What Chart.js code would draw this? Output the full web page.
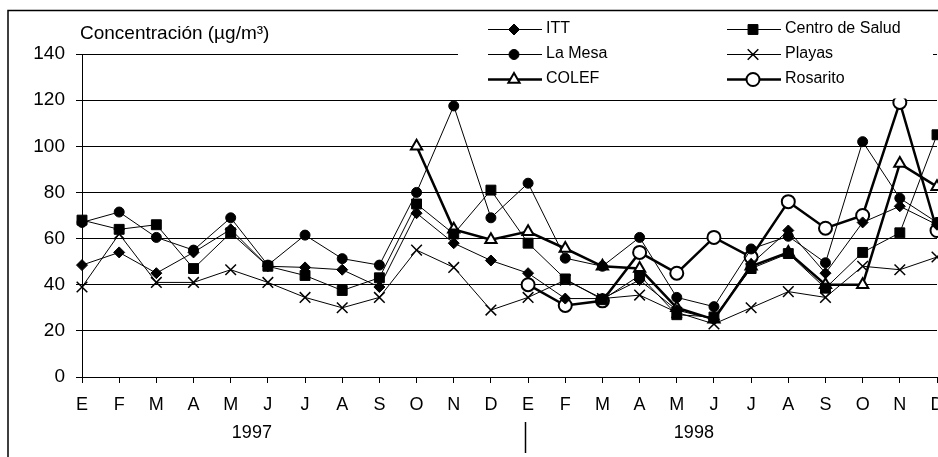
<!DOCTYPE html>
<html>
<head>
<meta charset="utf-8">
<script src="https://cdn.jsdelivr.net/npm/chart.js@4.4.0/dist/chart.umd.min.js"></script>
<style>
html, body { margin: 0; padding: 0; overflow: hidden; background: #fff; }
#wrap { position: relative; width: 960px; height: 457px; }
</style>
</head>
<body>
<div id="wrap"><canvas id="myChart"></canvas></div>
<script>
// meses 1997-1998
var months = ['E','F','M','A','M','J','J','A','S','O','N','D',
              'E','F','M','A','M','J','J','A','S','O','N','D'];
var years = ['1997', '1998'];

var itt      = [48.5, 54, 45, 54, 64, 48, 47.5, 46.5, 39, 71, 58, 50.5,
                45, 34, 34, 42, 29, 25, 49, 63.5, 45, 67, 74, 66];
var centro   = [68, 64, 66, 47, 62.5, 48, 44, 37.5, 43, 75, 62, 81,
                58, 42.5, 33.5, 44, 27, 26, 47, 53.5, 38.5, 54, 62.5, 105];
var laMesa   = [67, 71.5, 60.5, 55, 69, 48.5, 61.5, 51.3, 48.5, 80, 117.5, 69,
                84, 51.5, 48, 60.5, 34.5, 30.5, 55.5, 61, 49.5, 102, 77.5, 67];
var playas   = [39, 62, 41, 41, 46.5, 41, 34.5, 30, 34.5, 55, 47.5, 29,
                34.5, 42, 34, 35.5, 28, 23, 30, 37, 34.5, 48, 46.5, 52];
var colef    = [null, null, null, null, null, null, null, null, null, 100, 64, 59.5,
                63, 55.7, 48, 47, 30, 25, 48, 54, 40, 40, 92.5, 82.5];
var rosarito = [null, null, null, null, null, null, null, null, null, null, null, null,
                40, 31, 33, 54, 45, 60.5, 52, 76, 64.5, 70, 119, 63.5];

var FONT = "'Liberation Sans', Arial, sans-serif";
Chart.defaults.color = '#000';
Chart.defaults.font.family = FONT;

function serie(label, data, style, radius, filled, thick) {
    return {
        label: label,
        data: data,
        borderColor: '#000',
        backgroundColor: filled ? '#000' : '#fff',
        borderWidth: thick ? 2.5 : 1,
        pointStyle: style,
        pointRadius: radius,
        pointHoverRadius: radius,
        pointBorderWidth: filled ? 1 : 2,
        pointBackgroundColor: filled ? '#000' : '#fff',
        pointBorderColor: '#000',
        tension: 0,
        clip: false
    };
}

var datasets = [
    serie('ITT', itt, 'rectRot', 5.5, true, false),
    serie('Centro de Salud', centro, 'rect', 7, true, false),
    serie('La Mesa', laMesa, 'circle', 5, true, false),
    serie('Playas', playas, 'crossRot', 7.5, true, false),
    serie('COLEF', colef, 'triangle', 6.5, false, true),
    serie('Rosarito', rosarito, 'circle', 6.5, false, true)
];
datasets[3].pointBorderWidth = 1.5;

// marco, titulo del eje, leyenda y años
var extras = {
    id: 'extras',
    beforeDraw: function(chart) {
        var ctx = chart.ctx;
        ctx.save();
        ctx.strokeStyle = '#000';
        ctx.lineWidth = 1.5;
        ctx.beginPath();
        ctx.moveTo(8, chart.height + 5);
        ctx.lineTo(8, 10.5);
        ctx.lineTo(chart.width + 5, 10.5);
        ctx.stroke();
        ctx.restore();
    },
    afterDraw: function(chart) {
        var ctx = chart.ctx;
        var xs = chart.scales.x;
        var area = chart.chartArea;
        ctx.save();
        ctx.fillStyle = '#000';
        ctx.font = '19px ' + FONT;
        ctx.textBaseline = 'middle';
        ctx.textAlign = 'left';
        ctx.fillText('Concentración (µg/m³)', area.left - 2, area.top - 20);

        // años
        ctx.font = '18px ' + FONT;
        ctx.textAlign = 'center';
        ctx.fillText(years[0], xs.getPixelForValue(4.57), 433);
        ctx.fillText(years[1], xs.getPixelForValue(16.46), 433);
        ctx.strokeStyle = '#000';
        ctx.lineWidth = 1.5;
        ctx.beginPath();
        var dx = Math.round(xs.getPixelForValue(11.92)) + 0.5;
        ctx.moveTo(dx, 422);
        ctx.lineTo(dx, 453);
        ctx.stroke();

        // leyenda
        ctx.fillStyle = '#fff';
        ctx.fillRect(458, 12, 475, 86.5);
        ctx.font = '16px ' + FONT;
        ctx.textAlign = 'left';
        var cols = [488, 727];
        var rows = [29, 54, 79];
        chart.data.datasets.forEach(function(ds, i) {
            var x0 = cols[i % 2], y = rows[Math.floor(i / 2)];
            ctx.strokeStyle = '#000';
            ctx.lineWidth = ds.borderWidth;
            ctx.beginPath();
            ctx.moveTo(x0, y + 0.5);
            ctx.lineTo(x0 + 54, y + 0.5);
            ctx.stroke();
            ctx.fillStyle = ds.pointBackgroundColor;
            ctx.strokeStyle = '#000';
            ctx.lineWidth = ds.pointBorderWidth;
            Chart.helpers.drawPoint(ctx, {
                pointStyle: ds.pointStyle,
                radius: ds.pointRadius,
                borderWidth: ds.pointBorderWidth,
                rotation: 0
            }, x0 + 26, y + 0.5);
            ctx.fillStyle = '#000';
            ctx.fillText(ds.label, x0 + 58, y);
        });
        ctx.restore();
    }
};

var ctx = document.getElementById('myChart').getContext('2d');
var myChart = new Chart(ctx, {
    type: 'line',
    data: {
        labels: months,
        datasets: datasets
    },
    plugins: [extras],
    options: {
        responsive: true,
        maintainAspectRatio: false,
        animation: false,
        layout: { padding: { top: 54, right: 23, left: 0, bottom: 0 } },
        plugins: {
            legend: { display: false },
            tooltip: { enabled: false },
            title: { display: false }
        },
        scales: {
            x: {
                offset: false,
                grid: { drawOnChartArea: false, drawTicks: true, tickLength: 6, color: '#000' },
                border: { color: '#000', width: 1 },
                ticks: { font: { size: 18 }, padding: 11, maxRotation: 0, autoSkip: false },
                afterFit: function(s) { s.height = 80; s.paddingLeft = 0; s.paddingRight = 0; }
            },
            y: {
                min: 0,
                max: 140,
                grid: { color: '#000', tickLength: 6, drawTicks: true },
                border: { color: '#000', width: 1 },
                ticks: { stepSize: 20, font: { size: 19 }, padding: 11 },
                afterFit: function(s) { s.width = 82; s.paddingTop = 0; s.paddingBottom = 0; }
            }
        }
    }
});
</script>
</body>
</html>
